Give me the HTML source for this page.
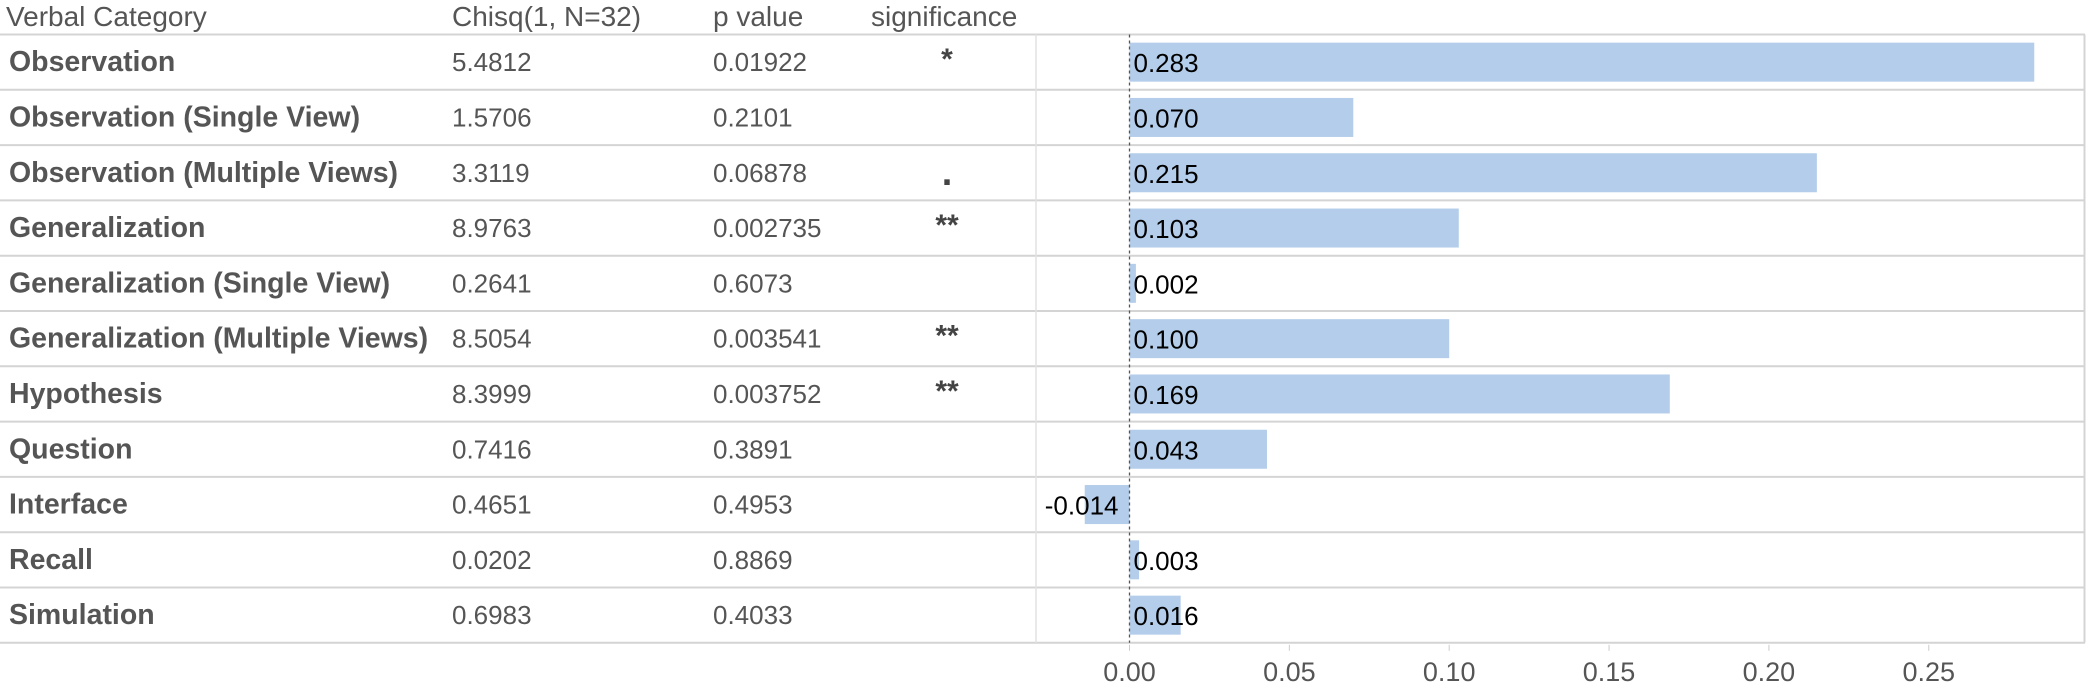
<!DOCTYPE html>
<html><head><meta charset="utf-8"><style>
html,body{margin:0;padding:0;background:#fff;}
svg{display:block;font-family:"Liberation Sans",Arial,sans-serif;}
</style></head><body>
<svg id="chart" width="2086" height="687" viewBox="0 0 2086 687"></svg>
<script>
const categories = ["Observation","Observation (Single View)","Observation (Multiple Views)","Generalization","Generalization (Single View)","Generalization (Multiple Views)","Hypothesis","Question","Interface","Recall","Simulation"];
const chisq = ["5.4812","1.5706","3.3119","8.9763","0.2641","8.5054","8.3999","0.7416","0.4651","0.0202","0.6983"];
const pvalues = ["0.01922","0.2101","0.06878","0.002735","0.6073","0.003541","0.003752","0.3891","0.4953","0.8869","0.4033"];
const signif = ["*","",".","**","","**","**","","","",""];
const values = [0.283,0.070,0.215,0.103,0.002,0.100,0.169,0.043,-0.014,0.003,0.016];
const ticks = [0,0.05,0.10,0.15,0.20,0.25];
const tickLabels = ["0.00","0.05","0.10","0.15","0.20","0.25"];

const svg = document.getElementById('chart');
const NS = "http://www.w3.org/2000/svg";
const top0 = 34.5, rowH = 55.3, zeroX = 1129.5, pxPerUnit = 3197;
const x = v => zeroX + v * pxPerUnit;
const rowY = i => top0 + i * rowH;
function mk(tag, attrs, text){
  const e = document.createElementNS(NS, tag);
  for (const k in attrs) e.setAttribute(k, attrs[k]);
  if (text !== undefined) e.textContent = text;
  svg.appendChild(e);
  return e;
}
const headers = [["Verbal Category",6],["Chisq(1, N=32)",452],["p value",713],["significance",871]];
headers.forEach(h=>{
  const t = mk('text',{x:h[1],y:26,'font-size':28,fill:'#555'},h[0]);
  
  
});
for (let i=0;i<=categories.length;i++){
  const l = mk('line',{x1:0,x2:2085,y1:rowY(i),y2:rowY(i),stroke:'#d4d4d4','stroke-width':2});
  
  
}
const vd = mk('line',{x1:1036,x2:1036,y1:top0,y2:rowY(categories.length),stroke:'#e2e2e2','stroke-width':1.5});


const rb = mk('line',{x1:2084.5,x2:2084.5,y1:top0,y2:rowY(categories.length),stroke:'#d4d4d4','stroke-width':2});


categories.forEach((c,i)=>{
  const cy = rowY(i) + rowH/2;
  const lab = mk('text',{x:9,y:cy+9,'font-size':28.5,'font-weight':'bold',fill:'#555'},c);
  
  
  const cs = mk('text',{x:452,y:cy+9,'font-size':26,fill:'#555'},chisq[i]);
  
  
  const pv = mk('text',{x:713,y:cy+9,'font-size':26,fill:'#555'},pvalues[i]);
  
  
  if (signif[i]){
    const isDot = signif[i]==='.';
    const s = mk('text',{x:947,y:isDot?cy+12:cy+7,'font-size':isDot?38:30,'font-weight':'bold',fill:'#444','text-anchor':'middle'},signif[i]);
    
    
  }
  const v = values[i];
  const x0 = Math.min(x(0), x(v)), w = Math.abs(x(v)-x(0));
  const b = mk('rect',{x:x0,y:cy-19.5,width:Math.max(w,1),height:39,fill:'#b4cdea'});
  
  
  const txt = v.toFixed(3);
  const vl = v<0 ? mk('text',{x:x(0)-11,y:cy+10,'font-size':26,fill:'#000','text-anchor':'end'},txt)
                 : mk('text',{x:x(0)+4,y:cy+10,'font-size':26,fill:'#000'},txt);
  
  
});
const zl = mk('line',{x1:x(0),x2:x(0),y1:top0,y2:rowY(categories.length),stroke:'#555','stroke-width':1.3,'stroke-dasharray':'3,3'});


ticks.forEach((t,i)=>{
  const tk = mk('line',{x1:x(t),x2:x(t),y1:rowY(categories.length)+2,y2:rowY(categories.length)+8,stroke:'#ccc','stroke-width':1});
  
  
  const tl = mk('text',{x:x(t),y:681,'font-size':27,fill:'#555','text-anchor':'middle'},tickLabels[i]);
  
  
});
</script>
</body></html>
